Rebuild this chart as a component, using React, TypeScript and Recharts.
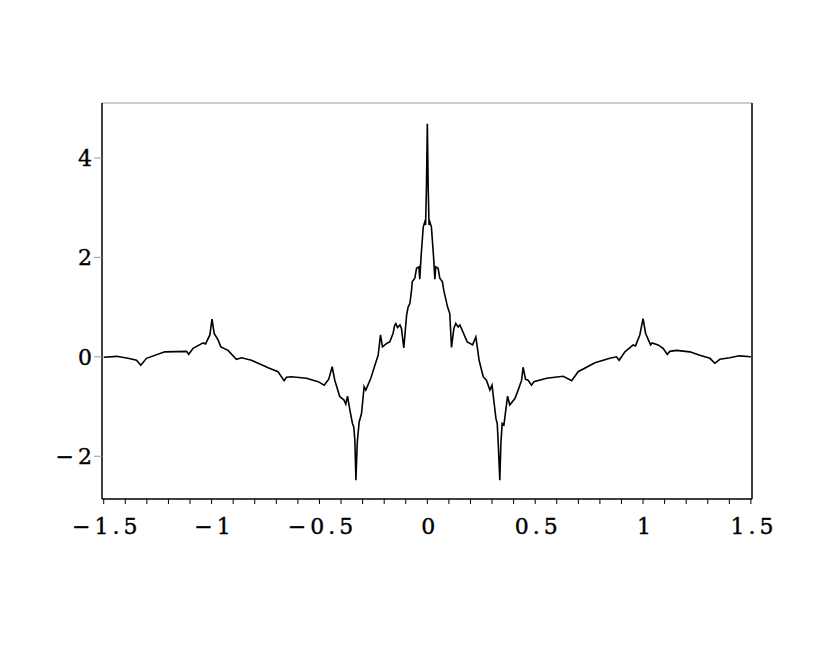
import React from 'react';
import { LineChart, Line, XAxis, YAxis, ReferenceLine } from 'recharts';

// x positions and values
const xValues = [
    -1.5, -1.441, -1.387, -1.348, -1.328, -1.302, -1.217, -1.116, -1.106, -1.086,
    -1.039, -1.028, -1.008, -0.998, -0.988, -0.97, -0.957, -0.924, -0.885, -0.861,
    -0.815, -0.8, -0.753, -0.738, -0.692, -0.664, -0.653, -0.63, -0.56, -0.506,
    -0.478, -0.457, -0.441, -0.429, -0.406, -0.386, -0.378, -0.37, -0.359, -0.347,
    -0.341, -0.336, -0.331, -0.325, -0.316, -0.305, -0.293, -0.285, -0.262, -0.24,
    -0.228, -0.217, -0.208, -0.185, -0.174, -0.159, -0.151, -0.146, -0.138, -0.127,
    -0.12, -0.109, -0.096, -0.089, -0.081, -0.073, -0.07, -0.058, -0.05, -0.039,
    -0.035, -0.029, -0.019, -0.012, -0.008, -0.004, 0,
    0.004, 0.008, 0.012, 0.019, 0.029, 0.035, 0.039, 0.05, 0.058, 0.07,
    0.076, 0.094, 0.104, 0.112, 0.123, 0.132, 0.143, 0.151, 0.185, 0.21,
    0.225, 0.24, 0.259, 0.274, 0.29, 0.3, 0.308, 0.318, 0.324, 0.328,
    0.336, 0.341, 0.347, 0.355, 0.372, 0.382, 0.406, 0.421, 0.437, 0.444,
    0.455, 0.467, 0.483, 0.494, 0.553, 0.63, 0.669, 0.699, 0.777, 0.846,
    0.877, 0.889, 0.916, 0.954, 0.965, 0.985, 1.0, 1.012, 1.035, 1.042,
    1.07, 1.093, 1.112, 1.124, 1.155, 1.217, 1.263, 1.31, 1.333, 1.356,
    1.402, 1.446, 1.5,
];

const yValues = [
    -0.01, 0.01, -0.03, -0.07, -0.17, -0.03, 0.1, 0.11, 0.05, 0.17,
    0.28, 0.26, 0.44, 0.76, 0.47, 0.34, 0.2, 0.13, -0.05, -0.02,
    -0.07, -0.1, -0.19, -0.22, -0.3, -0.48, -0.41, -0.4, -0.43, -0.5,
    -0.57, -0.45, -0.2, -0.47, -0.8, -0.87, -0.95, -0.79, -1.07, -1.34,
    -1.41, -1.67, -2.48, -1.74, -1.31, -1.14, -0.6, -0.67, -0.43, -0.13,
    0.03, 0.44, 0.2, 0.28, 0.3, 0.47, 0.64, 0.67, 0.59, 0.64,
    0.57, 0.18, 0.84, 1.0, 1.07, 1.34, 1.51, 1.58, 1.78, 1.81,
    1.56, 2.01, 2.61, 2.71, 2.65, 3.42, 4.69,
    3.42, 2.65, 2.71, 2.61, 2.01, 1.56, 1.81, 1.78, 1.58, 1.51,
    1.34, 1.0, 0.87, 0.19, 0.57, 0.67, 0.6, 0.64, 0.3, 0.24,
    0.4, -0.07, -0.4, -0.47, -0.67, -0.57, -0.87, -1.24, -1.34, -1.67,
    -2.48, -1.74, -1.34, -1.37, -0.79, -0.97, -0.84, -0.67, -0.47, -0.21,
    -0.45, -0.47, -0.57, -0.5, -0.43, -0.39, -0.48, -0.3, -0.12, -0.03,
    0.0, -0.07, 0.1, 0.24, 0.22, 0.44, 0.77, 0.47, 0.24, 0.28,
    0.24, 0.17, 0.05, 0.11, 0.13, 0.1, 0.03, -0.03, -0.13, -0.05,
    -0.02, 0.02, 0.0,
];

const xTicks = [
    -1.5, -1.4, -1.3, -1.2, -1.1, -1.0, -0.9, -0.8, -0.7, -0.6, -0.5, -0.4, -0.3, -0.2, -0.1,
    0, 0.1, 0.2, 0.3, 0.4, 0.5, 0.6, 0.7, 0.8, 0.9, 1.0, 1.1, 1.2, 1.3, 1.4, 1.5,
];
const xLabels = [-1.5, -1, -0.5, 0, 0.5, 1, 1.5];
const yTicks = [-2, 0, 2, 4];

const X_MIN = -1.508;
const X_MAX = 1.505;
const Y_MIN = -2.86;
const Y_MAX = 5.106;

const data = xValues.map((x, i) => ({ x: x, y: yValues[i] }));

const fmt = (v: number) => {
    if (!xLabels.some((l) => Math.abs(l - v) < 1e-6)) return '';
    return v < 0 ? '\u2212' + String(-v) : String(v);
};

const fmtY = (v: number) => (v < 0 ? '\u2212' + String(-v) : String(v));

// slight stroke to get the heavier look of the original digits
const tickFont = {
    fontFamily: 'DejaVu Serif',
    fontSize: 22,
    fill: '#000',
    stroke: '#000',
    strokeWidth: 0.4,
    letterSpacing: 4,
};

export default function App() {
    return (
        <div style={{ width: 822, height: 600 }}>
            <LineChart width={822} height={600} data={data} margin={{ top: 95, right: 78, left: 0, bottom: 69 }}>
                <XAxis
                    dataKey="x"
                    type="number"
                    domain={[X_MIN, X_MAX]}
                    allowDataOverflow
                    ticks={xTicks}
                    interval={0}
                    tickFormatter={fmt}
                    height={40}
                    tickSize={5}
                    tickMargin={14}
                    axisLine={{ stroke: '#000', strokeWidth: 1.5 }}
                    tickLine={{ stroke: '#000', strokeWidth: 1 }}
                    tick={{ ...tickFont, dx: 3 }}
                />
                <YAxis
                    dataKey="y"
                    type="number"
                    domain={[Y_MIN, Y_MAX]}
                    allowDataOverflow
                    ticks={yTicks}
                    interval={0}
                    tickFormatter={fmtY}
                    width={94}
                    tickSize={8}
                    tickMargin={-2}
                    axisLine={{ stroke: '#000', strokeWidth: 1.5 }}
                    tickLine={{ stroke: '#999', strokeWidth: 1 }}
                    tick={tickFont}
                />
                <ReferenceLine y={Y_MAX} stroke="#bbb" strokeWidth={1.5} />
                <ReferenceLine x={X_MAX} stroke="#000" strokeWidth={1.5} />
                <Line
                    type="linear"
                    dataKey="y"
                    stroke="#000"
                    strokeWidth={1.6}
                    dot={false}
                    isAnimationActive={false}
                />
            </LineChart>
        </div>
    );
}
